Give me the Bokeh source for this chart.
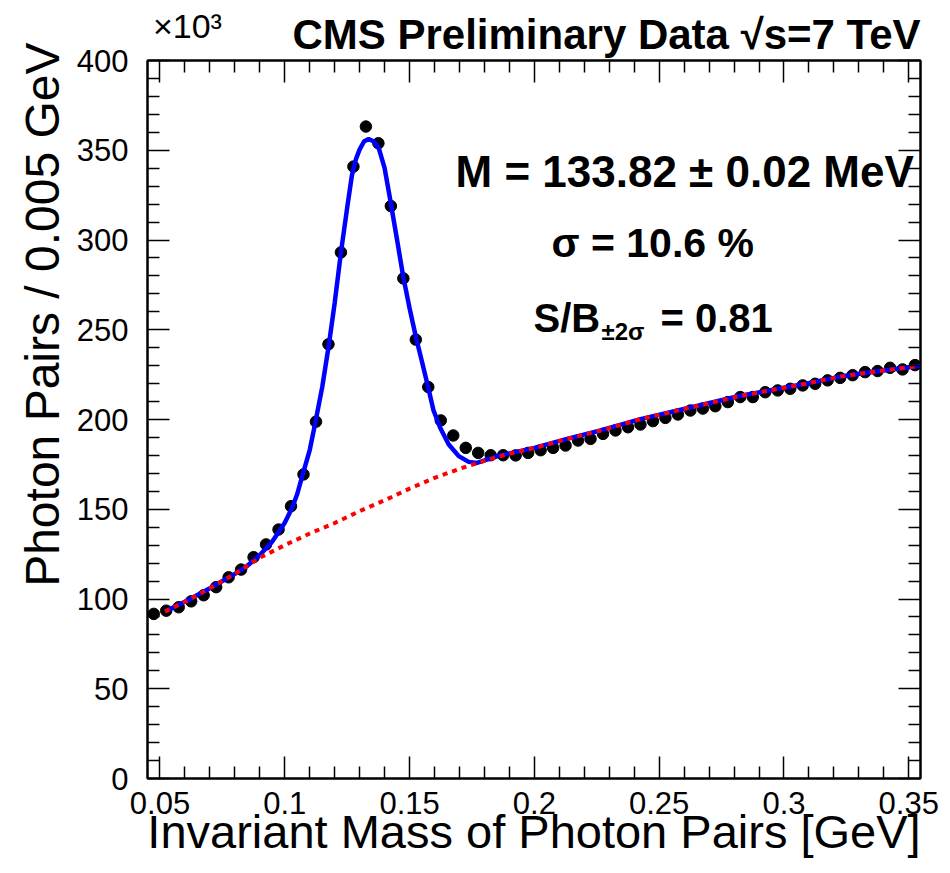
from bokeh.plotting import figure
from bokeh.models import Range1d, FixedTicker, LinearAxis, Label, Title
from bokeh.embed import file_html
from bokeh.resources import INLINE

# ---------------- data (values in units of 10^3 photon pairs) ----------------
mass_bins = [0.0475, 0.0525, 0.0575, 0.0625, 0.0675, 0.0725, 0.0775, 0.0825, 0.0875, 0.0925,
             0.0975, 0.1025, 0.1075, 0.1125, 0.1175, 0.1225, 0.1275, 0.1325, 0.1375, 0.1425,
             0.1475, 0.1525, 0.1575, 0.1625, 0.1675, 0.1725, 0.1775, 0.1825, 0.1875, 0.1925,
             0.1975, 0.2025, 0.2075, 0.2125, 0.2175, 0.2225, 0.2275, 0.2325, 0.2375, 0.2425,
             0.2475, 0.2525, 0.2575, 0.2625, 0.2675, 0.2725, 0.2775, 0.2825, 0.2875, 0.2925,
             0.2975, 0.3025, 0.3075, 0.3125, 0.3175, 0.3225, 0.3275, 0.3325, 0.3375, 0.3425,
             0.3475, 0.3525]
photon_pairs = [91.7, 93.5, 95.4, 98.7, 102.1, 106.6, 112.1, 116.4, 123.3, 130.4,
                138.7, 151.7, 169.4, 198.8, 241.9, 293.1, 340.9, 363.2, 353.9, 318.9,
                278.6, 244.5, 218.1, 199.5, 191.1, 184.2, 181.4, 180.1, 180.1, 180.0,
                181.4, 182.9, 184.2, 185.5, 188.3, 189.2, 192.0, 193.9, 195.7, 197.2,
                199.1, 200.9, 202.8, 205.0, 206.1, 207.4, 209.7, 212.5, 212.5, 215.2,
                216.2, 217.1, 219.0, 219.9, 221.8, 223.2, 224.7, 226.4, 227.0, 228.8,
                227.9, 230.3]

# signal + background fit (blue)
fit_total_x = [0.052, 0.06, 0.07, 0.08, 0.085, 0.09, 0.095, 0.1, 0.1029, 0.105,
               0.1069, 0.11, 0.1122, 0.115, 0.1176, 0.12, 0.1225, 0.125, 0.1269, 0.1285,
               0.13, 0.1318, 0.1336, 0.1355, 0.1376, 0.14, 0.1423, 0.145, 0.1474, 0.15,
               0.1526, 0.155, 0.1576, 0.1596, 0.1623, 0.1657, 0.1697, 0.1737, 0.177, 0.181,
               0.1864, 0.2, 0.2131, 0.2265, 0.2425, 0.2625, 0.2826, 0.3093, 0.3226, 0.336,
               0.3494, 0.355]
fit_total_y = [93.0, 98.5, 106.0, 114.0, 118.5, 124.5, 132.0, 142.5, 150.7, 158.5,
               168.0, 183.0, 198.0, 218.0, 241.0, 265.0, 293.0, 318.0, 336.0, 345.0,
               350.5, 355.0, 356.2, 355.0, 351.5, 340.0, 322.0, 300.0, 280.0, 262.0,
               245.5, 232.0, 217.0, 205.0, 195.3, 186.1, 179.6, 176.4, 175.8, 177.7,
               180.0, 184.2, 189.2, 193.9, 200.2, 206.7, 213.2, 220.1, 223.9, 226.6,
               229.0, 230.0]

# background-only fit (red dotted)
fit_bkg_x = [0.052, 0.06, 0.07, 0.08, 0.09, 0.1, 0.11, 0.12, 0.13, 0.14,
             0.15, 0.16, 0.17, 0.18, 0.19, 0.2, 0.2131, 0.2265, 0.2425, 0.2625,
             0.2826, 0.3093, 0.3226, 0.336, 0.3494, 0.355]
fit_bkg_y = [93.0, 98.5, 106.0, 114.0, 123.0, 130.0, 136.5, 142.3, 149.0, 155.0,
             161.5, 167.5, 172.5, 177.0, 181.0, 184.2, 189.2, 193.9, 200.2, 206.7,
             213.2, 220.1, 223.9, 226.6, 229.0, 230.0]

x_ticks = [0.05, 0.1, 0.15, 0.2, 0.25, 0.3, 0.35]
x_tick_labels = ["0.05", "0.1", "0.15", "0.2", "0.25", "0.3", "0.35"]
y_ticks = [0, 50, 100, 150, 200, 250, 300, 350, 400]
y_tick_labels = ["0", "50", "100", "150", "200", "250", "300", "350", "400"]
y_exponent = "\u00d710\u00b3"

x_minor = [round(0.05 + 0.01 * i, 2) for i in range(31) if i % 5]
y_minor = [10 * i for i in range(41) if i % 5]

XMIN, XMAX = 0.045, 0.3547
YMIN, YMAX = 0, 400

# layout (frame placement in figure pixels)
FL, FT, FW, FH = 147, 60, 773, 718
FONT = "Liberation Sans"


def px_x(px):
    return XMIN + (px - FL) / FW * (XMAX - XMIN)


def px_y(py):
    return YMIN + (FT + FH - py) / FH * (YMAX - YMIN)


p = figure(frame_width=FW, frame_height=FH,
           x_range=Range1d(XMIN, XMAX), y_range=Range1d(YMIN, YMAX),
           output_backend="svg", toolbar_location=None,
           min_border_left=FL, min_border_top=FT, min_border_right=22, min_border_bottom=93,
           background_fill_color="white", border_fill_color="white")
p.xgrid.visible = False
p.ygrid.visible = False
p.outline_line_color = "black"
p.outline_line_width = 2

xt = FixedTicker(ticks=x_ticks, minor_ticks=x_minor)
yt = FixedTicker(ticks=y_ticks, minor_ticks=y_minor)


def style_axis(ax, ticker, labels_map, visible_labels):
    ax.ticker = ticker
    ax.axis_line_color = "black"
    ax.axis_line_width = 2
    ax.major_tick_in = 22
    ax.major_tick_out = 0
    ax.minor_tick_in = 12
    ax.minor_tick_out = 0
    ax.major_tick_line_width = 1.5
    ax.minor_tick_line_width = 1.5
    ax.major_tick_line_color = "black"
    ax.minor_tick_line_color = "black"
    if visible_labels:
        ax.major_label_overrides = labels_map
        ax.major_label_text_font = FONT
        ax.major_label_text_font_size = "31px"
        ax.major_label_text_color = "black"
    else:
        ax.major_label_text_color = None
        ax.major_label_text_font_size = "1px"
        ax.major_label_standoff = 0


xb = p.xaxis[0]
yl = p.yaxis[0]
style_axis(xb, xt, dict(zip(x_ticks, x_tick_labels)), True)
style_axis(yl, yt, dict(zip(y_ticks, y_tick_labels)), True)
xb.major_label_standoff = 13
yl.major_label_standoff = 19

xb.axis_label = "Invariant Mass of Photon Pairs [GeV]"
xb.axis_label_text_font = FONT
xb.axis_label_text_font_style = "normal"
xb.axis_label_text_color = "black"
xb.axis_label_text_font_size = "47px"
xb.axis_label_standoff = -12

# y-axis title, aligned to the top end of the axis as in the original
ytitle = Title(text="Photon Pairs / 0.005 GeV", align="right", offset=-18,
               vertical_align="top",
               text_font=FONT, text_font_size="48px", text_font_style="normal",
               text_color="black", standoff=5)
p.add_layout(ytitle, "left")

top_ax = LinearAxis()
style_axis(top_ax, xt, {}, False)
p.add_layout(top_ax, "above")
right_ax = LinearAxis()
style_axis(right_ax, yt, {}, False)
p.add_layout(right_ax, "right")

# header, just above the frame
header = Title(text="CMS Preliminary Data \u221as=7 TeV", align="right",
               vertical_align="top",
               text_font=FONT, text_font_size="42px", text_font_style="bold",
               text_color="black", standoff=2)
p.add_layout(header, "above")

# y-axis exponent: a label-only axis stacked outside the header and pulled back down
EXP_X = 0.061
exp_ax = LinearAxis(ticker=FixedTicker(ticks=[EXP_X], minor_ticks=[]),
                    major_label_overrides={EXP_X: y_exponent})
exp_ax.axis_line_color = None
exp_ax.major_tick_line_color = None
exp_ax.minor_tick_line_color = None
exp_ax.major_tick_in = 0
exp_ax.major_tick_out = 0
exp_ax.major_label_text_font = FONT
exp_ax.major_label_text_font_size = "34px"
exp_ax.major_label_text_color = "black"
exp_ax.major_label_standoff = -35
p.add_layout(exp_ax, "above")

# data and fits
p.scatter(mass_bins, photon_pairs, size=11.5, color="black")
p.line(fit_total_x, fit_total_y, line_color="#0000ff", line_width=4.5)
p.line(fit_bkg_x, fit_bkg_y, line_color="#ff0000", line_width=4, line_dash="5 5")


# texts inside the frame
def add_label(text, px, py, size, style="bold", align="left"):
    p.add_layout(Label(x=px_x(px), y=px_y(py), text=text, text_font=FONT,
                       text_font_size=size, text_font_style=style, text_color="black",
                       text_align=align, text_baseline="alphabetic"))


add_label("M = 133.82 \u00b1 0.02 MeV", 455, 171, "44px")
add_label("\u03c3 = 10.6 %", 551, 242, "41px")
add_label("S/B", 533, 317, "40px")
add_label("\u00b12\u03c3", 601, 331, "24px")
add_label("= 0.81", 660, 317, "40px")

open("out.html", "w").write(file_html(p, INLINE))
